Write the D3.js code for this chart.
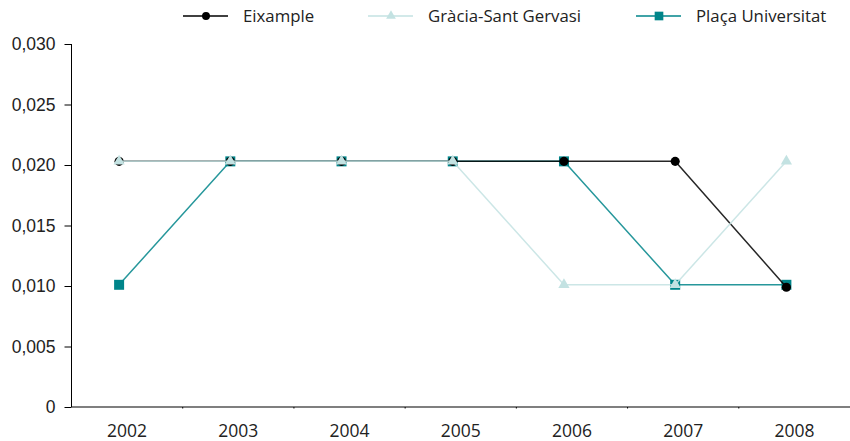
<!DOCTYPE html>
<html>
<head>
<meta charset="utf-8">
<script src="https://cdn.jsdelivr.net/npm/d3@7"></script>
<style>
  body { margin: 0; background: #fff; }
  svg { display: block; font-family: "Open Sans", "Noto Sans", sans-serif; }
  .axis text { font-size: 17.5px; fill: #222; }
  .axis path, .axis line { stroke: #000; }
</style>
</head>
<body>
<svg id="chart" width="850" height="441"></svg>
<script>
var years = ['2002', '2003', '2004', '2005', '2006', '2007', '2008'];
var eixample = [0.0203, 0.0203, 0.0203, 0.0203, 0.0203, 0.0203, 0.0099];
var gracia = [0.0203, 0.0203, 0.0203, 0.0203, 0.0101, 0.0101, 0.0203];
var placa = [0.0101, 0.0203, 0.0203, 0.0203, 0.0203, 0.0101, 0.0101];
var yTicks = [0, 0.005, 0.010, 0.015, 0.020, 0.025, 0.030];

// draw order: plaça below, gràcia on top
var series = [
  { name: 'Plaça Universitat', values: placa, color: '#00858a', symbol: d3.symbolSquare, size: 100, legendX: 636 },
  { name: 'Eixample', values: eixample, color: '#000000', symbol: d3.symbolCircle, size: 66, legendX: 183 },
  { name: 'Gràcia-Sant Gervasi', values: gracia, color: '#c3e2e2', symbol: d3.symbolTriangle, size: 55, legendX: 368 }
];

var svg = d3.select('#chart');
var mLeft = 71.5, mRight = 850, mTop = 44, mBottom = 407;

var x = d3.scaleBand().domain(years).range([mLeft, 850]);
var px = function(d) { return x(d) + x.bandwidth() / 2 - 8; };
var y = d3.scaleLinear().domain([0, 0.030]).range([mBottom, mTop]);

var fmt = function(d) { return d === 0 ? '0' : d3.format('.3f')(d).replace('.', ','); };

// y axis
var yAxis = svg.append('g').attr('class', 'axis')
  .attr('transform', 'translate(' + mLeft + ',0)')
  .call(d3.axisLeft(y).tickValues(yTicks).tickFormat(fmt).tickSize(7).tickSizeOuter(0));
yAxis.select('.domain').remove();
yAxis.append('line').attr('y1', mTop).attr('y2', mBottom).attr('stroke', '#000');
yAxis.selectAll('text').attr('dx', '-6');

// x axis
var xg = svg.append('g').attr('class', 'axis');
xg.append('line').attr('x1', mLeft).attr('x2', mRight).attr('y1', mBottom).attr('y2', mBottom)
  .attr('stroke', '#000').attr('stroke-width', 1.2);
xg.selectAll('line.sep').data(years.slice(1)).enter().append('line')
  .attr('x1', function(d) { return x(d); }).attr('x2', function(d) { return x(d); })
  .attr('y1', mBottom).attr('y2', mBottom + 1.5).attr('stroke', '#bbb');
xg.selectAll('text.yr').data(years).enter().append('text')
  .attr('x', function(d) { return x(d) + x.bandwidth() / 2; })
  .attr('y', 437)
  .attr('text-anchor', 'middle')
  .text(function(d) { return d; });

var line = d3.line()
  .x(function(d, i) { return px(years[i]); })
  .y(function(d) { return y(d); });

series.forEach(function(s) {
  var g = svg.append('g');
  g.append('path').datum(s.values)
    .attr('d', line)
    .attr('fill', 'none')
    .attr('stroke', s.color)
    .attr('stroke-width', 1.5)
    .attr('stroke-opacity', 0.85);
  g.selectAll('path.pt').data(s.values).enter().append('path')
    .attr('class', 'pt')
    .attr('d', d3.symbol().type(s.symbol).size(s.size))
    .attr('transform', function(d, i) { return 'translate(' + px(years[i]) + ',' + y(d) + ')'; })
    .attr('fill', s.color);
});

// legend
var legendOrder = [series[1], series[2], series[0]];
var lg = svg.append('g');
legendOrder.forEach(function(s) {
  var gg = lg.append('g').attr('transform', 'translate(' + s.legendX + ',16)');
  gg.append('line').attr('x1', 0).attr('x2', 45).attr('stroke', s.color).attr('stroke-width', 1.5);
  gg.append('path').attr('d', d3.symbol().type(s.symbol).size(s.size * 0.75))
    .attr('transform', 'translate(23,0)').attr('fill', s.color);
  gg.append('text').attr('x', 60).attr('y', 6).attr('font-size', 16.8).attr('fill', '#222').text(s.name);
});
</script>
</body>
</html>
